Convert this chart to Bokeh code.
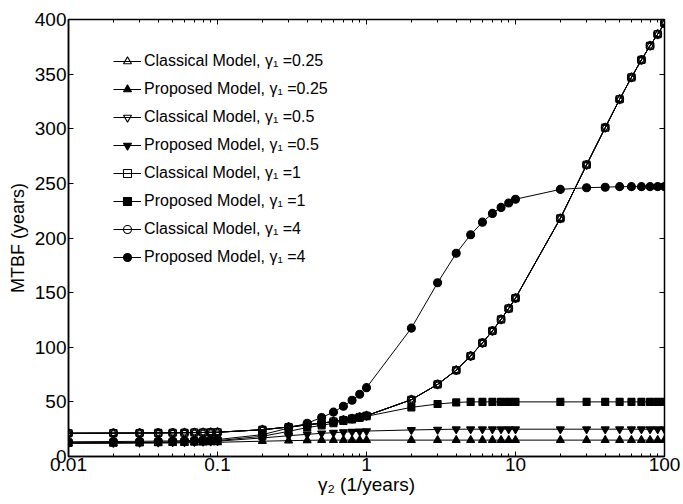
from bokeh.plotting import figure
from bokeh.models import (Legend, LegendItem, LogAxis, LinearAxis, CustomJSTickFormatter,
                          FixedTicker, Range1d, LogTicker)
from bokeh.embed import file_html
from bokeh.resources import INLINE

gamma2 = [0.01, 0.02, 0.03, 0.04, 0.05, 0.06, 0.07, 0.08, 0.09, 0.1,
          0.2, 0.3, 0.4, 0.5, 0.6, 0.7, 0.8, 0.9, 1,
          2, 3, 4, 5, 6, 7, 8, 9, 10,
          20, 30, 40, 50, 60, 70, 80, 90, 100]

classical = [21.3, 21.4, 21.5, 21.6, 21.7, 21.8, 21.9, 22.0, 22.1, 22.2,
             24.5, 27.0, 29.0, 30.5, 32.0, 33.3, 34.7, 36.0, 37.3,
             52.0, 66.0, 79.0, 92.0, 104.0, 115.0, 125.5, 135.5, 145.0,
             218.0, 267.0, 301.0, 327.0, 347.0, 363.0, 376.0, 386.5, 396.5]

proposed_025 = [12.0, 12.1, 12.2, 12.3, 12.4, 12.5, 12.6, 12.8, 12.9, 13.0,
                14.0, 14.5, 14.8, 15.0, 15.0, 15.0, 15.0, 15.0, 15.0,
                15.0, 15.0, 15.0, 15.0, 15.0, 15.0, 15.0, 15.0, 15.0,
                15.0, 15.0, 15.0, 15.0, 15.0, 15.0, 15.0, 15.0, 15.0]

proposed_05 = [12.5, 12.6, 12.8, 12.9, 13.1, 13.2, 13.4, 13.6, 13.8, 14.0,
               17.0, 19.0, 20.3, 21.2, 21.8, 22.3, 22.7, 23.0, 23.3,
               24.3, 24.7, 25.0, 25.0, 25.0, 25.0, 25.0, 25.0, 25.0,
               25.0, 25.0, 25.0, 25.0, 25.0, 25.0, 25.0, 25.0, 25.0]

proposed_1 = [12.5, 12.7, 12.9, 13.1, 13.3, 13.5, 13.8, 14.0, 14.2, 14.5,
              18.5, 23.0, 26.5, 28.5, 30.5, 32.5, 34.0, 35.5, 36.8,
              45.0, 48.0, 49.5, 50.0, 50.0, 50.0, 50.0, 50.0, 50.0,
              50.0, 50.0, 50.0, 50.0, 50.0, 50.0, 50.0, 50.0, 50.0]

proposed_4 = [13.5, 13.7, 13.9, 14.1, 14.3, 14.5, 14.7, 15.0, 15.2, 15.5,
              20.0, 26.0, 30.5, 35.7, 40.6, 46.0, 51.5, 57.0, 63.0,
              117.5, 159.0, 186.0, 203.0, 214.5, 222.5, 228.0, 232.0, 235.5,
              244.5, 246.0, 246.5, 247.0, 247.0, 247.0, 247.0, 247.0, 247.0]

y_ticks = [0, 50, 100, 150, 200, 250, 300, 350, 400]
x_ticks = [0.01, 0.1, 1, 10, 100]

series = [
    ("Classical Model, \u03b3\u2081 =0.25", classical, "triangle", None),
    ("Proposed Model, \u03b3\u2081 =0.25", proposed_025, "triangle", "black"),
    ("Classical Model, \u03b3\u2081 =0.5", classical, "inverted_triangle", None),
    ("Proposed Model, \u03b3\u2081 =0.5", proposed_05, "inverted_triangle", "black"),
    ("Classical Model, \u03b3\u2081 =1", classical, "square", None),
    ("Proposed Model, \u03b3\u2081 =1", proposed_1, "square", "black"),
    ("Classical Model, \u03b3\u2081 =4", classical, "circle", None),
    ("Proposed Model, \u03b3\u2081 =4", proposed_4, "circle", "black"),
]

FONT = "Liberation Sans"

p = figure(width=683, height=504, x_axis_type="log", output_backend="svg",
           toolbar_location=None, x_range=Range1d(0.01, 100), y_range=Range1d(0, 400),
           min_border_left=68, min_border_right=19, min_border_top=19, min_border_bottom=48)
p.grid.visible = False
p.outline_line_color = "black"
p.outline_line_width = 1.5
p.background_fill_color = "white"
p.border_fill_color = "white"

items = []
for label, ys, marker, fill in series:
    r1 = p.line(gamma2, ys, line_color="black", line_width=1)
    size = 8 if marker != "square" else 7
    r2 = p.scatter(gamma2, ys, marker=marker, size=size, fill_color=fill,
                   line_color="black", line_width=1.1)
    items.append(LegendItem(label=label, renderers=[r1, r2]))

n = len(items)
gh, sp = 20, 8
legend_h = n * gh + (n - 1) * sp
legend = Legend(items=items, location=(45, 405 - legend_h), border_line_color=None,
                background_fill_alpha=0, padding=0, margin=0, spacing=sp,
                glyph_width=28, glyph_height=gh, label_height=gh, label_standoff=3,
                label_text_font=FONT, label_text_font_size="16px",
                label_text_color="black")
p.add_layout(legend, "center")

xfmt = CustomJSTickFormatter(code="return String(parseFloat(tick.toPrecision(6)));")

xa = p.xaxis[0]
xa.ticker = LogTicker(num_minor_ticks=10)
xa.formatter = xfmt
ya = p.yaxis[0]
ya.ticker = FixedTicker(ticks=y_ticks)

for ax in (xa, ya):
    ax.major_tick_in = 5
    ax.major_tick_out = 0
    ax.minor_tick_in = 3
    ax.minor_tick_out = 0
    ax.axis_line_color = "black"
    ax.axis_line_width = 1.5
    ax.major_label_text_font = FONT
    ax.major_label_text_font_size = "19px"
    ax.major_label_text_color = "black"
    ax.axis_label_text_font = FONT
    ax.axis_label_text_font_size = "18px"
    ax.axis_label_text_font_style = "normal"
    ax.axis_label_text_color = "black"
xa.axis_label_text_font_size = "19px"
ya.minor_tick_line_color = None
ya.major_label_standoff = 2
xa.major_label_standoff = 1
xa.axis_label = "\u03b3\u2082 (1/years)"
ya.axis_label = "MTBF (years)"
xa.axis_label_standoff = 0
ya.axis_label_standoff = 4

top = LogAxis(ticker=LogTicker(num_minor_ticks=10), major_label_text_font_size="0px",
              major_tick_in=5, major_tick_out=0, minor_tick_in=3, minor_tick_out=0,
              axis_line_color="black")
top.major_label_text_color = None
right = LinearAxis(ticker=FixedTicker(ticks=y_ticks), major_tick_in=5, major_tick_out=0,
                   minor_tick_line_color=None, axis_line_color="black")
right.major_label_text_color = None
right.major_label_text_font_size = "0px"
p.add_layout(top, "above")
p.add_layout(right, "right")

open("out.html", "w").write(file_html(p, INLINE))
